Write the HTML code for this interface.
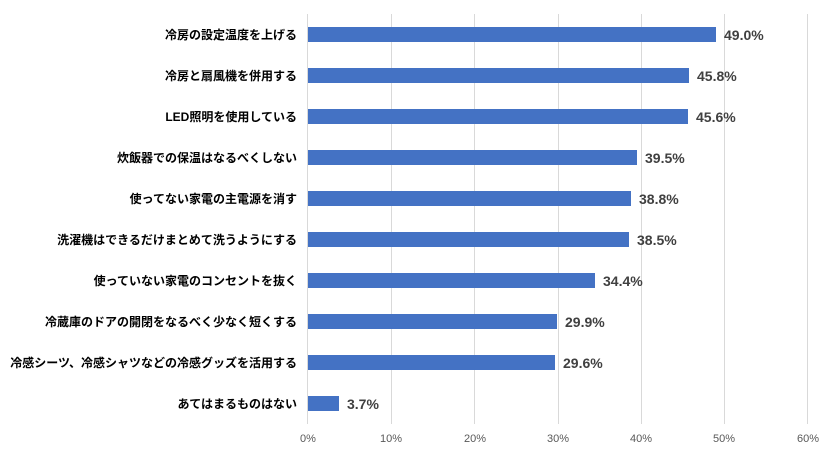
<!DOCTYPE html><html><head><meta charset="utf-8"><style>body{margin:0;background:#fff}</style></head><body>
<svg width="832" height="456" xmlns="http://www.w3.org/2000/svg" font-family="Liberation Sans, Noto Sans CJK JP, sans-serif">
<g stroke="#d9d9d9" stroke-width="1">
<line x1="391.5" y1="14" x2="391.5" y2="424"/><line x1="474.5" y1="14" x2="474.5" y2="424"/><line x1="558.5" y1="14" x2="558.5" y2="424"/><line x1="641.5" y1="14" x2="641.5" y2="424"/><line x1="724.5" y1="14" x2="724.5" y2="424"/><line x1="807.5" y1="14" x2="807.5" y2="424"/><line x1="307.5" y1="14" x2="307.5" y2="424"/>
</g>
<g fill="#595959" font-size="11" text-anchor="middle">
<text x="308" y="442">0%</text><text x="391" y="442">10%</text><text x="475" y="442">20%</text><text x="558" y="442">30%</text><text x="641" y="442">40%</text><text x="724" y="442">50%</text><text x="808" y="442">60%</text>
</g>
<g fill="#4472c4">
<rect x="308" y="27" width="408" height="15"/><rect x="308" y="68" width="381" height="15"/><rect x="308" y="109" width="380" height="15"/><rect x="308" y="150" width="329" height="15"/><rect x="308" y="191" width="323" height="15"/><rect x="308" y="232" width="321" height="15"/><rect x="308" y="273" width="287" height="15"/><rect x="308" y="314" width="249" height="15"/><rect x="308" y="355" width="247" height="15"/><rect x="308" y="396" width="31" height="15"/>
</g>
<g fill="#404040" font-size="14" font-weight="bold">
<text x="724" y="40">49.0%</text><text x="697" y="81">45.8%</text><text x="696" y="122">45.6%</text><text x="645" y="163">39.5%</text><text x="639" y="204">38.8%</text><text x="637" y="245">38.5%</text><text x="603" y="286">34.4%</text><text x="565" y="327">29.9%</text><text x="563" y="368">29.6%</text><text x="347" y="409">3.7%</text>
</g>
<g fill="#000" font-size="12" font-weight="bold" text-anchor="end">
<text x="297" y="39">冷房の設定温度を上げる</text><text x="297" y="80">冷房と扇風機を併用する</text><text x="297" y="121">LED照明を使用している</text><text x="297" y="162">炊飯器での保温はなるべくしない</text><text x="297" y="203">使ってない家電の主電源を消す</text><text x="297" y="244">洗濯機はできるだけまとめて洗うようにする</text><text x="297" y="285">使っていない家電のコンセントを抜く</text><text x="297" y="326">冷蔵庫のドアの開閉をなるべく少なく短くする</text><text x="297" y="367">冷感シーツ、冷感シャツなどの冷感グッズを活用する</text><text x="297" y="408">あてはまるものはない</text>
</g>
</svg></body></html>
